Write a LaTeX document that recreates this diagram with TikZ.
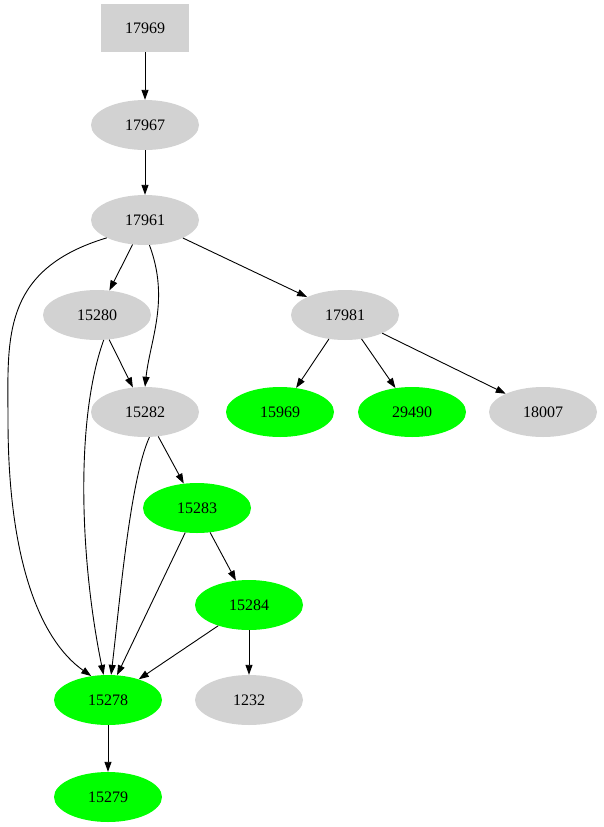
\documentclass[tikz,border=0pt]{standalone}
\usepackage{fontspec}
\setmainfont{Liberation Serif}
\usetikzlibrary{shapes.geometric,arrows.meta}

\tikzset{
 gnode/.style={ellipse, fill=gray!35, minimum width=108pt, minimum height=50pt, inner sep=0pt, font=\fontsize{16}{18}\selectfont},
 hnode/.style={gnode, fill=green},
 edge/.style={-{Triangle[length=10pt,width=7pt]}, black, line width=0.9pt}
}

\begin{document}
\begin{tikzpicture}[x=1pt,y=-1pt]
 \useasboundingbox (0,0) rectangle (603,827);

 \node[rectangle, fill=gray!35, minimum width=88pt, minimum height=48pt, font=\fontsize{16}{18}\selectfont] (n17969) at (145,28) {17969};
 \node[gnode] (n17967) at (145,125) {17967};
 \node[gnode] (n17961) at (145,220) {17961};
 \node[gnode] (n15280) at (97,315) {15280};
 \node[gnode] (n17981) at (345,315) {17981};
 \node[gnode] (n15282) at (145,412) {15282};
 \node[hnode] (n15969) at (280,412) {15969};
 \node[hnode] (n29490) at (412,412) {29490};
 \node[gnode] (n18007) at (543,412) {18007};
 \node[hnode] (n15283) at (197,508) {15283};
 \node[hnode] (n15284) at (249,605) {15284};
 \node[hnode] (n15278) at (108,700) {15278};
 \node[gnode] (n1232) at (249,700) {1232};
 \node[hnode] (n15279) at (108,797) {15279};

 \draw[edge] (n17969) -- (n17967);
 \draw[edge] (n17967) -- (n17961);
 \draw[edge] (n17961) -- (n15280);
 \draw[edge] (n17961) -- (n17981);
 \draw[edge] (n17961.-80) .. controls (170,300) and (150,340) .. (n15282.north);
 \draw[edge] (n17961.-155) .. controls (0,270) and (8,340) .. (8,420) .. controls (8,560) and (40,640) .. (n15278.125);
 \draw[edge] (n15280) -- (n15282);
 \draw[edge] (n15280.-75) .. controls (75,420) and (80,560) .. (n15278.100);
 \draw[edge] (n15282.-80) .. controls (130,480) and (120,600) .. (n15278.83);
 \draw[edge] (n15282) -- (n15283);
 \draw[edge] (n15283) -- (n15278.70);
 \draw[edge] (n15283) -- (n15284);
 \draw[edge] (n15284) -- (n15278);
 \draw[edge] (n15284) -- (n1232);
 \draw[edge] (n17981) -- (n15969);
 \draw[edge] (n17981) -- (n29490);
 \draw[edge] (n17981) -- (n18007);
 \draw[edge] (n15278) -- (n15279);
\end{tikzpicture}
\end{document}
